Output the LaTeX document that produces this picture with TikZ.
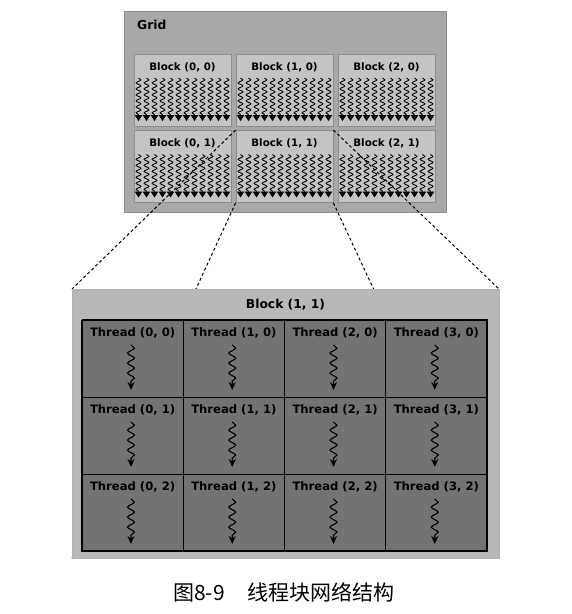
\documentclass[tikz,border=0pt]{standalone}
\usepackage{fontspec}
\setmainfont{DejaVu Sans}
\newfontfamily\cjk{Noto Sans CJK SC}
\usetikzlibrary{decorations.pathmorphing,arrows.meta}
\definecolor{gridfill}{gray}{0.66}
\definecolor{blockfill}{gray}{0.77}
\definecolor{bigfill}{gray}{0.72}
\definecolor{cellfill}{gray}{0.45}

\begin{document}
\begin{tikzpicture}[x=1pt,y=-1pt,
  blockbox/.style={draw=black!45,fill=blockfill,line width=0.8pt,minimum width=97pt,minimum height=72pt,inner sep=0pt},
  cellbox/.style={draw=black,fill=cellfill,line width=1pt,minimum width=101.25pt,minimum height=77pt,inner sep=0pt},
  warp/.style={line width=0.9pt,decorate,decoration={snake,amplitude=2.4pt,segment length=6pt,post length=4pt},-{Triangle[length=6pt,width=7.5pt]}},
  thr/.style={line width=1.1pt,decorate,decoration={snake,amplitude=3.4pt,segment length=10pt,post length=4pt},-{Stealth[length=8pt,width=7pt]}},
  lbl/.style={font=\bfseries\fontsize{10.3}{11}\selectfont,inner sep=0pt},
  biglbl/.style={font=\bfseries\fontsize{12.3}{13}\selectfont,inner sep=0pt}]
\useasboundingbox (0,0) rectangle (572,614);

% grid of blocks
\node[draw=black!45,fill=gridfill,line width=1pt,minimum width=322pt,minimum height=201pt] (grid) at (285,111.5) {};
\node[biglbl,anchor=west] (gridlbl) at (137,25) {Grid};
\foreach \i in {0,1,2}
  \foreach \j in {0,1} {
    \node[blockbox] (B\i\j) at (182.5+102*\i,90+76.5*\j) {};
    \node[lbl] at (182.5+102*\i,67+76.5*\j) {Block (\i, \j)};
    \foreach \k in {0,...,11}
      \draw[warp] (182.5+102*\i-44+8*\k,78+76.5*\j) -- ++(0,43);
  }

% zoom lines
\draw[dashed,dash pattern=on 3pt off 2.5pt,line width=1pt] (B11.north west) -- (72,289) coordinate (blkNW);
\draw[dashed,dash pattern=on 3pt off 2.5pt,line width=1pt] (B11.north east) -- (499,289) coordinate (blkNE);
\draw[dashed,dash pattern=on 3pt off 2.5pt,line width=1pt] (B11.south west) -- (72,558) coordinate (blkSW);
\draw[dashed,dash pattern=on 3pt off 2.5pt,line width=1pt] (B11.south east) -- (499,558) coordinate (blkSE);

% block (1,1) with its threads
\node[draw=black!30,fill=bigfill,line width=1pt,minimum width=427pt,minimum height=269pt] (blk) at (285.5,423.5) {};
\node[biglbl] (blklbl) at (285.5,305) {Block (1, 1)};
\foreach \i in {0,...,3}
  \foreach \j in {0,1,2} {
    \node[cellbox] (T\i\j) at (132.6+101.25*\i,358.5+77*\j) {};
    \node[lbl,font=\bfseries\fontsize{11.6}{12}\selectfont] at (132.6+101.25*\i,333+77*\j) {Thread (\i, \j)};
    \draw[thr] (131+101.25*\i,345+77*\j) -- ++(0,45);
  }
\draw[line width=1.3pt] (blk.center) ++(-203,-103.5) rectangle ++(405,231);

\node[font=\cjk\fontsize{21}{21}\selectfont] (cap) at (284,592) {图8-9\hspace{1.1em}线程块网络结构};
\end{tikzpicture}
\end{document}
